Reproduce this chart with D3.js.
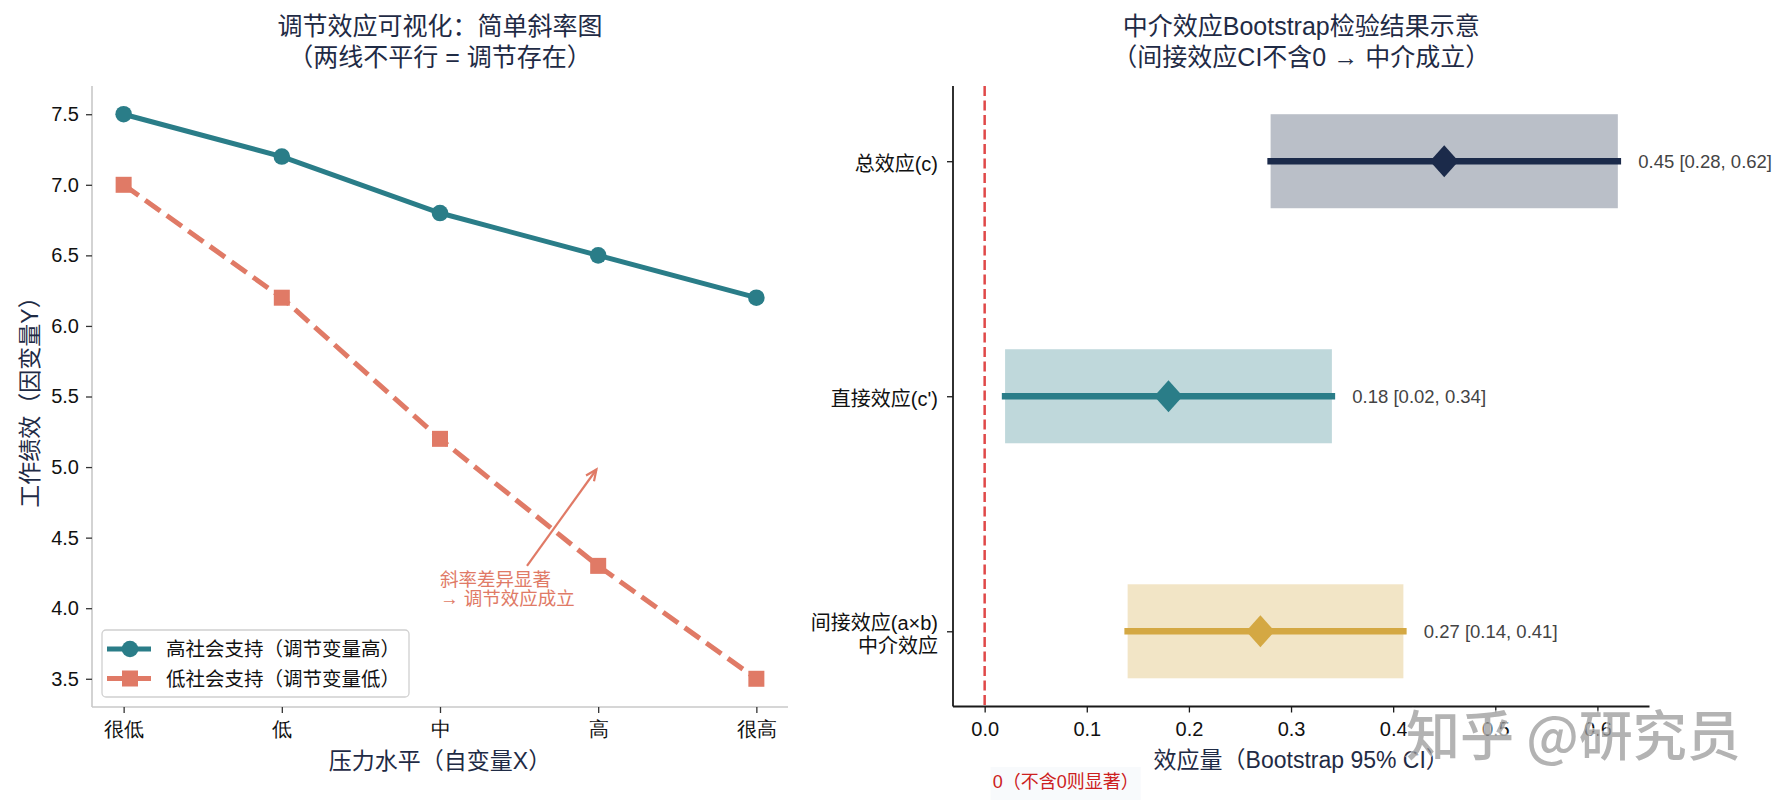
<!DOCTYPE html>
<html>
<head>
<meta charset="utf-8">
<script src="https://cdn.jsdelivr.net/npm/d3@7"></script>
<style>
  html, body { margin: 0; padding: 0; background: #fff; }
  svg { display: block; font-family: "Liberation Sans", Arial, "Noto Sans CJK SC", sans-serif; }
</style>
</head>
<body>
<svg id="chart" width="1785" height="807"></svg>
<script>
// ---- data: left panel (simple slopes) ----
const xLevels = ["很低", "低", "中", "高", "很高"]
const highSupport = [7.5, 7.2, 6.8, 6.5, 6.2]
const lowSupport = [7.0, 6.2, 5.2, 4.3, 3.5]
const yTicksLeft = [3.5, 4.0, 4.5, 5.0, 5.5, 6.0, 6.5, 7.0, 7.5]
const seriesNames = ["高社会支持（调节变量高）", "低社会支持（调节变量低）"]

// ---- data: right panel (bootstrap mediation) ----
const effectNames = [["总效应(c)"], ["直接效应(c')"], ["间接效应(a×b)", "中介效应"]]
const effectPos = [2, 1, 0]
const effectEst = [0.45, 0.18, 0.27]
const ciLow = [0.28, 0.02, 0.14]
const ciHigh = [0.62, 0.34, 0.41]
const xTicksRight = [0.0, 0.1, 0.2, 0.3, 0.4, 0.5, 0.6]

const teal = "#2a7d88", salmon = "#e07a66", navy = "#1b2a4a", gold = "#d4a843"
const effectColors = [navy, teal, gold]
const titleColor = "#1f2b45"

const svg = d3.select("#chart")

// ======================= LEFT PANEL =======================
const L = { left: 92, right: 788, top: 86, bottom: 707 }
const xL = d3.scaleLinear().domain([-0.2, 4.2]).range([L.left, L.right])
const yL = d3.scaleLinear().domain([3.3, 7.7]).range([L.bottom, L.top])

const gL = svg.append("g")

// titles
const tL = gL.append("text").attr("text-anchor", "middle").attr("fill", titleColor).style("font-size", "25px")
tL.append("tspan").attr("x", (L.left + L.right) / 2).attr("y", 35).text("调节效应可视化：简单斜率图")
tL.append("tspan").attr("x", (L.left + L.right) / 2).attr("y", 66).text("（两线不平行 = 调节存在）")

// axes
const axL = gL.append("g").attr("transform", `translate(${L.left},0)`)
    .call(d3.axisLeft(yL).tickValues(yTicksLeft).tickFormat(d3.format(".1f")).tickSize(6).tickPadding(7))
const axB = gL.append("g").attr("transform", `translate(0,${L.bottom})`)
    .call(d3.axisBottom(xL).tickValues(d3.range(xLevels.length)).tickFormat(i => xLevels[i]).tickSize(6).tickPadding(9))
;[axL, axB].forEach(a => {
    a.select(".domain").attr("stroke", "#c8c8c8").attr("stroke-width", 1.6)
    a.selectAll(".tick line").attr("stroke", "#333").attr("stroke-width", 1.3)
    a.selectAll(".tick text").attr("fill", "#111").style("font-size", "20px")
})
axL.select(".domain").attr("d", `M0,${L.bottom}V${L.top}`)
axB.select(".domain").attr("d", `M${L.left},0H${L.right}`)

gL.append("text").attr("x", (L.left + L.right) / 2).attr("y", 761)
    .attr("text-anchor", "middle").attr("dominant-baseline", "central")
    .attr("fill", titleColor).style("font-size", "23px").text("压力水平（自变量X）")
gL.append("text").attr("transform", `translate(30,${(L.top + L.bottom) / 2}) rotate(-90)`)
    .attr("text-anchor", "middle").attr("dominant-baseline", "central")
    .attr("fill", titleColor).style("font-size", "23px").text("工作绩效（因变量Y）")

// lines
const line = d3.line().x((d, i) => xL(i)).y(d => yL(d))
gL.append("path").datum(lowSupport).attr("d", line).attr("fill", "none")
    .attr("stroke", salmon).attr("stroke-width", 5).attr("stroke-dasharray", "18.5,8")
gL.append("path").datum(highSupport).attr("d", line).attr("fill", "none")
    .attr("stroke", teal).attr("stroke-width", 5)

gL.selectAll(".sq").data(lowSupport).enter().append("rect")
    .attr("x", (d, i) => xL(i) - 8).attr("y", d => yL(d) - 8)
    .attr("width", 16).attr("height", 16).attr("fill", salmon)
gL.selectAll(".dot").data(highSupport).enter().append("circle")
    .attr("cx", (d, i) => xL(i)).attr("cy", d => yL(d)).attr("r", 8.3).attr("fill", teal)

// annotation
const arrowFrom = [2.55, 4.3], arrowTo = [3.0, 5.0]
const ax0 = xL(arrowFrom[0]), ay0 = yL(arrowFrom[1]), ax1 = xL(arrowTo[0]), ay1 = yL(arrowTo[1])
const ang = Math.atan2(ay1 - ay0, ax1 - ax0)
const hx = ax1 - 3 * Math.cos(ang), hy = ay1 - 3 * Math.sin(ang)
gL.append("line").attr("x1", ax0).attr("y1", ay0).attr("x2", hx).attr("y2", hy)
    .attr("stroke", salmon).attr("stroke-width", 2.2)
const headLen = 12, headAng = 0.42
gL.append("path")
    .attr("d", `M${hx - headLen * Math.cos(ang - headAng)},${hy - headLen * Math.sin(ang - headAng)}L${hx},${hy}L${hx - headLen * Math.cos(ang + headAng)},${hy - headLen * Math.sin(ang + headAng)}`)
    .attr("fill", "none").attr("stroke", salmon).attr("stroke-width", 2.2)
const ann = gL.append("text").attr("fill", salmon).style("font-size", "18.5px")
ann.append("tspan").attr("x", xL(2.0)).attr("y", yL(4.0) - 22).text("斜率差异显著")
ann.append("tspan").attr("x", xL(2.0)).attr("y", yL(4.0) - 3).text("→ 调节效应成立")

// legend
const lg = gL.append("g").attr("transform", "translate(102,630)")
lg.append("rect").attr("width", 307).attr("height", 67).attr("rx", 4)
    .attr("fill", "#fff").attr("fill-opacity", 0.85).attr("stroke", "#d0d0d0").attr("stroke-width", 1.3)
seriesNames.forEach((name, i) => {
    const cy = 19 + i * 29.5
    lg.append("line").attr("x1", 5).attr("x2", 49).attr("y1", cy).attr("y2", cy)
        .attr("stroke", i === 0 ? teal : salmon).attr("stroke-width", 5)
        .attr("stroke-dasharray", i === 0 ? null : "18.5,8")
    if (i === 0) lg.append("circle").attr("cx", 28).attr("cy", cy).attr("r", 8.3).attr("fill", teal)
    else lg.append("rect").attr("x", 20).attr("y", cy - 8).attr("width", 16).attr("height", 16).attr("fill", salmon)
    lg.append("text").attr("x", 64).attr("y", cy).attr("dominant-baseline", "central")
        .attr("fill", "#111").style("font-size", "19.5px").text(name)
})

// ======================= RIGHT PANEL =======================
const R = { left: 953, right: 1649.5, top: 86, bottom: 706.5 }
const xR = d3.scaleLinear().domain([-0.031, 0.651]).range([R.left, R.right])
const yR = d3.scaleLinear().domain([-0.32, 2.32]).range([R.bottom, R.top])

const gR = svg.append("g")
const tR = gR.append("text").attr("text-anchor", "middle").attr("fill", titleColor).style("font-size", "25px")
tR.append("tspan").attr("x", (R.left + R.right) / 2).attr("y", 35).text("中介效应Bootstrap检验结果示意")
tR.append("tspan").attr("x", (R.left + R.right) / 2).attr("y", 66).text("（间接效应CI不含0 → 中介成立）")

// CI boxes
gR.selectAll(".ci").data(effectEst).enter().append("rect")
    .attr("x", (d, i) => xR(ciLow[i])).attr("width", (d, i) => xR(ciHigh[i]) - xR(ciLow[i]))
    .attr("y", (d, i) => yR(effectPos[i] + 0.2)).attr("height", (d, i) => yR(effectPos[i] - 0.2) - yR(effectPos[i] + 0.2))
    .attr("fill", (d, i) => effectColors[i]).attr("fill-opacity", 0.3)

// zero line
gR.append("line").attr("x1", xR(0)).attr("x2", xR(0)).attr("y1", R.top).attr("y2", R.bottom)
    .attr("stroke", "#e04848").attr("stroke-width", 2.5).attr("stroke-dasharray", "10,4.5")

// error lines + diamonds
gR.selectAll(".err").data(effectEst).enter().append("line")
    .attr("x1", (d, i) => xR(ciLow[i])).attr("x2", (d, i) => xR(ciHigh[i]))
    .attr("y1", (d, i) => yR(effectPos[i])).attr("y2", (d, i) => yR(effectPos[i]))
    .attr("stroke", (d, i) => effectColors[i]).attr("stroke-width", 6.5).attr("stroke-linecap", "square")
gR.selectAll(".dia").data(effectEst).enter().append("path")
    .attr("d", (d, i) => {
        const cx = xR(d), cy = yR(effectPos[i])
        return `M${cx},${cy - 16}L${cx + 14.3},${cy}L${cx},${cy + 16}L${cx - 14.3},${cy}Z`
    })
    .attr("fill", (d, i) => effectColors[i])

// value labels
gR.selectAll(".val").data(effectEst).enter().append("text")
    .attr("x", (d, i) => xR(ciHigh[i] + 0.02)).attr("y", (d, i) => yR(effectPos[i]))
    .attr("dominant-baseline", "central").attr("fill", "#444").style("font-size", "18.5px")
    .text((d, i) => `${d.toFixed(2)} [${ciLow[i].toFixed(2)}, ${ciHigh[i].toFixed(2)}]`)

// axes
const axRL = gR.append("g").attr("transform", `translate(${R.left},0)`)
    .call(d3.axisLeft(yR).tickValues(effectPos).tickFormat("").tickSize(6))
const axRB = gR.append("g").attr("transform", `translate(0,${R.bottom})`)
    .call(d3.axisBottom(xR).tickValues(xTicksRight).tickFormat(d3.format(".1f")).tickSize(6).tickPadding(9))
;[axRL, axRB].forEach(a => {
    a.select(".domain").attr("stroke", "#1a1a1a").attr("stroke-width", 1.8)
    a.selectAll(".tick line").attr("stroke", "#1a1a1a").attr("stroke-width", 1.3)
    a.selectAll(".tick text").attr("fill", "#111").style("font-size", "20px")
})
axRL.select(".domain").attr("d", `M0,${R.bottom}V${R.top}`)
axRB.select(".domain").attr("d", `M${R.left},0H${R.right}`)

effectNames.forEach((lines, i) => {
    const t = gR.append("text").attr("text-anchor", "end").attr("fill", "#111").style("font-size", "20px")
    const cy = yR(effectPos[i])
    lines.forEach((s, j) => {
        t.append("tspan").attr("x", R.left - 15).attr("y", cy + (j - (lines.length - 1) / 2) * 23 + 3)
            .attr("dominant-baseline", "central").text(s)
    })
})

gR.append("text").attr("x", (R.left + R.right) / 2).attr("y", 760)
    .attr("text-anchor", "middle").attr("dominant-baseline", "central")
    .attr("fill", titleColor).style("font-size", "23px").text("效应量（Bootstrap 95% CI）")

// zero note
gR.append("rect").attr("x", xR(0) + 6).attr("y", 767).attr("width", 150).attr("height", 33)
    .attr("fill", "#f2f6fa").attr("fill-opacity", 0.5)
gR.append("text").attr("x", xR(0) + 81).attr("y", 782)
    .attr("text-anchor", "middle").attr("dominant-baseline", "central")
    .attr("fill", "#cc2020").style("font-size", "18px").text("0（不含0则显著）")

// watermark
svg.append("text").attr("x", 1406).attr("y", 732).attr("dominant-baseline", "central")
    .attr("fill", "#9a9a9a").attr("fill-opacity", 0.75)
    .attr("stroke", "#fff").attr("stroke-opacity", 0.6).attr("stroke-width", 3).attr("paint-order", "stroke")
    .style("font-family", "'Noto Sans CJK SC', sans-serif").style("font-size", "54px").style("font-weight", 500)
    .text("知乎 @研究员")
</script>
</body>
</html>
